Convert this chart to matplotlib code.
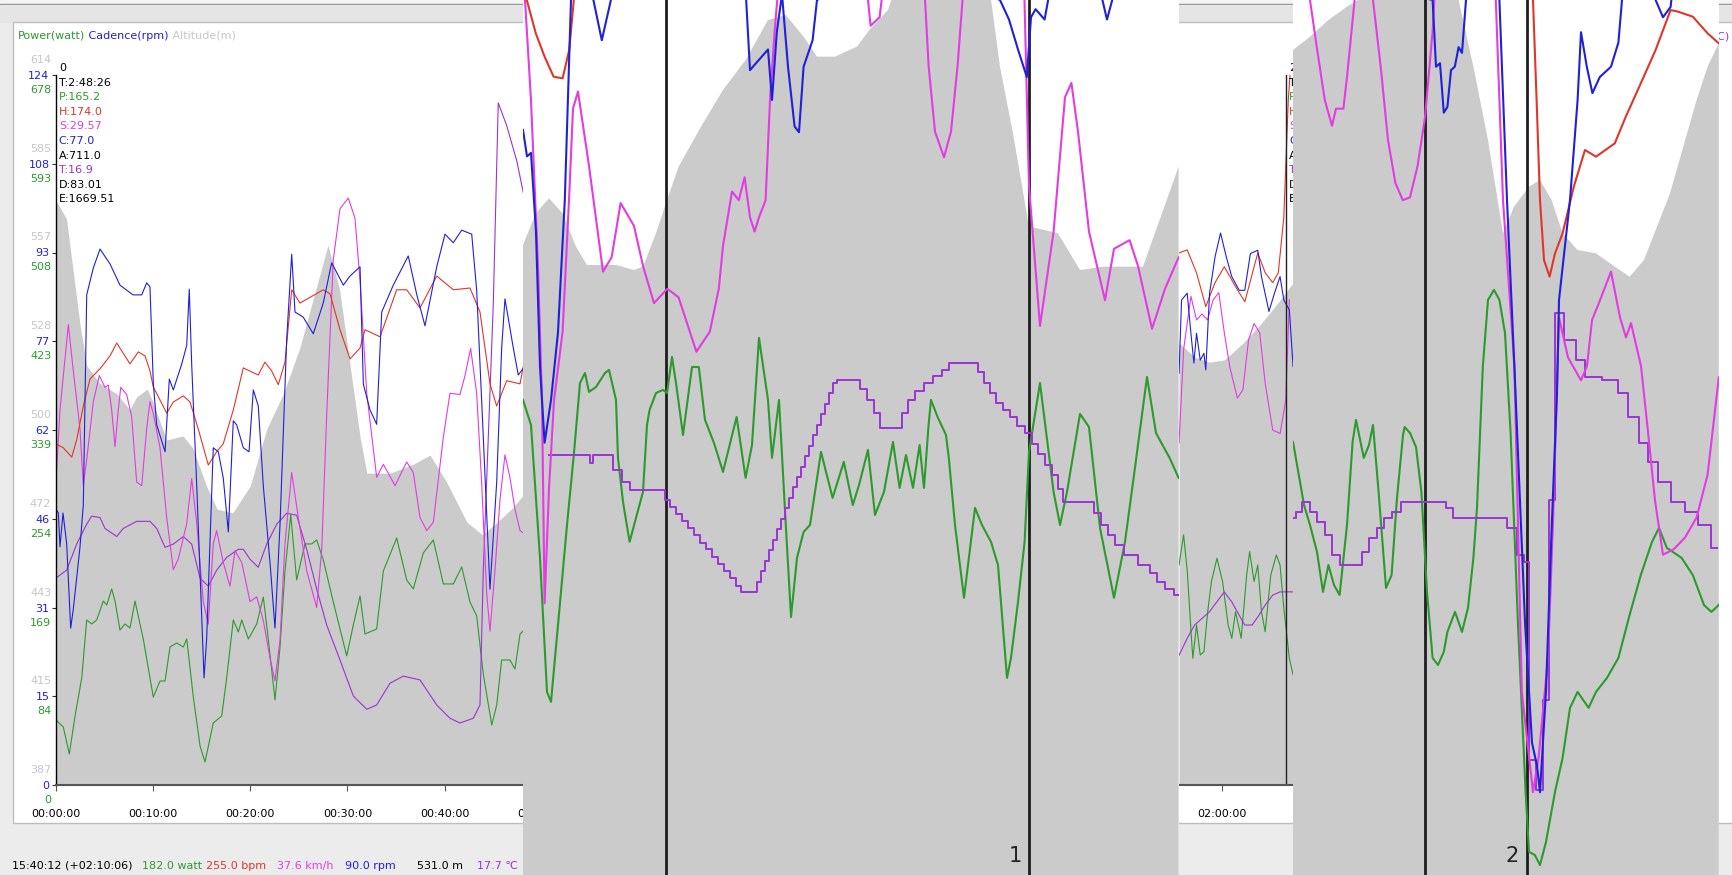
import matplotlib.pyplot as plt
import numpy as np
from matplotlib.patches import Rectangle
from matplotlib.transforms import blended_transform_factory

# ---- ride overview, first 48 minutes -------------------------------------
alt_a_min = [0.0, 1.1, 2.5, 3.2, 4.5, 6.3, 7.6, 8.3, 9.4, 10.0, 11.4, 13.1, 14.1, 15.5, 16.6, 18.2,
             20.0, 21.7, 23.4, 25.1, 28.0, 29.2, 31.3, 32.0, 34.4, 36.8, 38.5, 40.2, 42.3, 43.9,
             45.4, 47.0, 48.1]
alt_a_m = [574, 568, 534, 521, 515.5, 512, 507, 511, 513.6, 509.4, 497.3, 498.6, 494.7, 482.6,
           475.2, 474, 482.6, 500.8, 512, 526.7, 559.6, 545.3, 498.3, 486.7, 486.7, 489.6, 492.5,
           483.9, 471, 467, 471, 475.6, 479.7]

cad_a_min = [0.0, 0.26, 0.43, 0.74, 1.12, 1.53, 1.80, 2.49, 2.83, 3.18, 3.86, 4.55, 5.58, 6.60,
             7.94, 8.84, 9.35, 9.69, 10.03, 10.38, 11.24, 11.68, 12.09, 12.95, 13.47, 13.73, 13.98,
             14.50, 15.25, 15.52, 16.20, 16.72, 17.23, 17.75, 18.26, 18.61, 19.29, 19.88, 20.32,
             20.83, 21.35, 22.04, 22.55, 23.07, 23.75, 24.27, 24.61, 25.46, 26.49, 27.52, 28.38,
             29.58, 30.27, 31.30, 31.64, 32.33, 33.01, 33.53, 34.72, 36.26, 37.13, 37.98, 39.19,
             40.04, 40.89, 41.76, 42.79, 43.30, 43.98, 44.67, 45.36, 45.87, 46.21, 47.07, 47.58,
             48.10]
cad_a_rpm = [48.2, 47.5, 41.6, 47.5, 42.1, 27.4, 30.7, 41.6, 48.9, 85.6, 90.3, 93.6, 91.0, 87.3,
             85.6, 85.6, 87.7, 87.0, 70.2, 62.9, 58.2, 70.9, 69.0, 73.5, 76.8, 86.6, 73.5, 52.2,
             18.7, 25.5, 58.9, 58.2, 53.6, 44.2, 63.6, 62.9, 58.9, 58.2, 69.0, 66.2, 52.2, 38.8,
             27.4, 45.6, 77.7, 92.7, 82.6, 81.7, 78.8, 84.2, 91.2, 87.3, 88.9, 90.5, 70.0, 65.5,
             63.0, 82.6, 87.3, 92.4, 85.7, 80.2, 90.5, 96.2, 94.7, 96.9, 96.2, 86.4, 60.8, 34.2,
             52.9, 76.3, 84.9, 76.3, 71.6, 72.8]

hr_a_min = [0.0, 0.77, 1.64, 2.15, 2.83, 3.52, 4.55, 5.58, 6.27, 7.63, 8.49, 9.18, 9.69, 10.03,
            11.41, 12.09, 13.12, 13.81, 14.66, 15.69, 16.55, 17.23, 18.26, 19.29, 20.32, 20.83,
            21.52, 22.21, 22.89, 23.58, 24.27, 25.12, 27.52, 28.21, 29.24, 30.27, 31.30, 31.81,
            33.36, 35.07, 36.10, 37.47, 39.19, 40.90, 42.61, 43.64, 44.67, 45.36, 46.39, 47.76, 48.1]
hr_a_bpm = [116.9, 116.0, 113.9, 117.8, 125.4, 131.5, 133.8, 136.7, 139.6, 134.9, 137.6, 136.7,
            133.3, 129.7, 123.8, 126.3, 127.7, 126.3, 120.2, 112.1, 115.1, 116.9, 124.5, 134.0,
            132.9, 132.4, 135.3, 133.3, 130.2, 135.3, 151.6, 148.6, 151.6, 150.7, 142.6, 136.0,
            138.5, 142.6, 141.0, 151.6, 151.6, 147.5, 154.7, 151.6, 152.0, 146.6, 130.4, 125.4,
            131.1, 130.4, 134.4]

spd_a_min = [0.0, 0.43, 1.29, 1.80, 2.49, 2.83, 3.18, 3.86, 4.48, 5.06, 5.40, 5.75, 6.09, 6.43,
             6.68, 7.29, 7.81, 8.32, 8.84, 9.35, 9.69, 10.03, 10.72, 11.41, 12.09, 12.60, 13.47,
             13.98, 14.50, 15.17, 15.69, 16.20, 16.55, 17.23, 17.92, 18.44, 19.13, 19.98, 20.67,
             21.35, 22.04, 22.55, 23.07, 23.58, 24.27, 24.95, 25.81, 26.84, 27.36, 27.87, 28.55,
             29.24, 30.09, 30.78, 31.30, 31.99, 33.01, 33.70, 34.90, 36.10, 36.78, 37.47, 38.16,
             38.84, 39.87, 40.55, 41.58, 42.10, 42.68, 43.30, 43.81, 44.33, 44.67, 45.18, 45.70,
             46.21, 46.72, 47.24, 47.76, 48.10]
spd_a_kmh = [25.3, 31.7, 38.9, 35.0, 30.1, 25.3, 27.5, 32.4, 34.6, 33.6, 33.8, 31.7, 28.6, 31.7,
             33.6, 33.0, 31.1, 25.6, 25.3, 30.1, 32.4, 31.4, 28.5, 22.6, 18.2, 19.1, 22.1, 25.9,
             22.1, 15.5, 13.6, 20.4, 21.5, 18.8, 16.8, 19.8, 18.8, 15.5, 15.9, 13.9, 10.7, 8.8,
             12.3, 20.4, 26.4, 22.6, 18.1, 15.0, 19.9, 31.3, 44.4, 48.7, 49.6, 47.9, 42.6, 33.1,
             26.0, 27.1, 25.3, 27.3, 26.4, 22.6, 21.5, 22.2, 29.4, 33.1, 33.0, 34.6, 36.9, 33.1,
             25.6, 16.2, 13.0, 18.1, 24.1, 27.9, 26.0, 23.3, 21.5, 21.3]

tmp_a_min = [0.0, 1.12, 2.15, 3.18, 3.69, 4.55, 5.06, 6.27, 6.94, 8.32, 9.69, 10.38, 11.24,
             12.09, 13.12, 13.98, 14.84, 15.69, 16.55, 17.58, 18.78, 19.29, 19.98, 20.83, 21.70,
             22.73, 23.75, 24.78, 25.81, 26.84, 27.87, 29.24, 30.61, 31.99, 33.01, 34.38, 35.75,
             37.47, 39.19, 40.55, 41.58, 42.95, 43.64, 43.98, 45.01, 45.52, 46.39, 47.42, 48.10]
tmp_a_c = [14.37, 14.54, 15.09, 15.51, 15.68, 15.65, 15.42, 15.25, 15.42, 15.57, 15.57, 15.42,
           15.02, 15.09, 15.25, 15.09, 14.37, 14.20, 14.54, 14.81, 14.98, 14.98, 14.77, 14.60,
           15.09, 15.51, 15.74, 15.70, 14.98, 14.14, 13.38, 12.64, 11.88, 11.60, 11.69, 12.15,
           12.30, 12.22, 11.69, 11.41, 11.31, 11.41, 11.69, 14.52, 20.17, 24.41, 23.93, 23.19, 22.51]

pwr_a_min = [0.0, 0.77, 1.39, 1.98, 2.67, 3.18, 3.69, 4.21, 4.89, 5.24, 5.75, 6.09, 6.60, 7.12,
             7.63, 8.15, 9.00, 10.03, 10.72, 11.24, 11.75, 12.44, 13.12, 13.47, 14.15, 14.84,
             15.35, 16.20, 17.07, 17.58, 18.26, 18.78, 19.13, 19.81, 20.67, 21.35, 21.86, 22.55,
             23.07, 23.58, 24.17, 24.78, 25.64, 26.33, 26.84, 27.52, 28.55, 29.93, 30.61, 31.30,
             31.81, 33.01, 33.70, 35.07, 36.10, 36.78, 37.81, 38.84, 39.87, 40.90, 41.76, 42.61,
             43.30, 43.98, 44.85, 45.36, 45.87, 46.72, 47.24, 47.76, 48.10]
pwr_a_w = [62.1, 55.4, 29.6, 65.9, 102.2, 157.6, 153.8, 157.6, 175.7, 171.9, 187.2, 175.7, 148.0,
           153.8, 149.9, 175.7, 139.4, 84.0, 99.3, 99.3, 131.8, 135.6, 131.8, 139.4, 84.0, 37.2,
           22.0, 59.2, 65.9, 102.2, 157.6, 146.1, 157.6, 139.4, 153.8, 179.5, 139.4, 81.2, 131.8,
           204.4, 257.9, 195.8, 230.2, 230.2, 234.0, 214.9, 174.8, 123.2, 152.8, 180.5, 144.2,
           149.0, 204.4, 235.9, 195.8, 187.2, 221.6, 234.0, 192.0, 192.0, 208.2, 174.8, 161.4,
           106.0, 57.3, 76.4, 119.4, 119.4, 110.8, 144.2, 147.1]

# ---- ride overview around the two hour mark -------------------------------
alt_b_min = [115.56, 117.17, 118.70, 120.22, 122.14, 124.05, 125.95, 127.28]
alt_b_m = [528.3, 523.8, 522.2, 522.9, 528.3, 534.7, 542.0, 547.5]

cad_b_min = [115.56, 115.82, 116.40, 116.78, 117.09, 117.36, 117.74, 118.12, 118.31, 118.70,
             119.27, 119.83, 120.41, 120.98, 121.75, 122.32, 122.90, 123.66, 124.04, 124.81,
             125.38, 125.95, 126.34, 126.91, 127.29]
cad_b_rpm = [71.9, 84.7, 85.9, 78.9, 73.7, 78.9, 74.2, 75.4, 72.5, 85.9, 92.3, 96.4, 92.3, 88.8,
             86.4, 86.4, 92.8, 93.4, 88.8, 82.7, 85.9, 88.8, 84.7, 83.0, 73.1]

hr_b_min = [115.56, 116.40, 117.36, 118.31, 119.26, 120.22, 121.37, 122.33, 123.66, 124.43,
            125.20, 125.77, 126.34, 126.80, 127.30]
hr_b_bpm = [159.9, 160.6, 155.4, 147.8, 153.2, 156.8, 152.3, 148.9, 159.9, 155.4, 153.2, 155.4,
            168.0, 194.4, 210.0]

spd_b_min = [115.56, 116.03, 116.78, 117.36, 117.92, 118.49, 119.07, 119.65, 120.22, 120.79,
             121.56, 122.13, 122.71, 123.28, 123.86, 124.43, 125.20, 125.96, 126.53, 126.91]
spd_b_kmh = [28.9, 36.8, 41.3, 39.3, 39.8, 39.3, 41.0, 41.6, 38.2, 35.3, 32.7, 33.4, 37.6, 39.0,
             38.2, 33.9, 30.0, 29.7, 32.5, 41.0]

tmp_b_min = [115.56, 116.40, 117.16, 117.92, 118.69, 119.45, 120.22, 120.98, 121.74, 122.32,
             123.08, 123.66, 124.42, 125.19, 125.95, 127.29]
tmp_b_c = [12.74, 13.10, 13.38, 13.52, 13.66, 13.87, 14.08, 13.87, 13.59, 13.38, 13.38, 13.55,
           13.80, 14.01, 14.08, 14.08]

pwr_b_min = [115.56, 116.03, 116.41, 116.79, 116.98, 117.36, 117.74, 118.12, 118.51, 118.89,
             119.46, 120.04, 120.61, 120.99, 121.37, 121.95, 122.52, 122.82, 123.28, 123.66,
             124.04, 124.42, 125.00, 125.57, 125.95, 126.34, 126.91, 127.29]
pwr_b_w = [210.1, 238.8, 203.7, 146.4, 121.0, 152.8, 124.2, 127.3, 165.5, 194.2, 216.5, 194.2,
           152.8, 140.1, 165.5, 140.1, 200.6, 222.8, 194.2, 210.1, 165.5, 146.4, 200.6, 219.7,
           210.1, 168.7, 121.0, 105.1]

# ---- close-up 1 (minutes from left edge of the close-up) ------------------
z1_alt_min = [0.0, 0.64, 1.30, 1.98, 2.65, 3.20, 4.65, 5.55, 6.00, 6.65, 7.20, 7.78, 8.90, 10.0,
              11.13, 12.25, 13.14, 14.03, 14.70, 15.59, 16.70, 17.38, 18.25, 18.95, 23.18, 23.85,
              24.50, 25.30, 26.08, 26.75, 27.85, 28.99, 30.10, 31.0, 31.65, 32.78]
z1_alt_m = [515.6, 519.4, 521.2, 519.4, 515.4, 513.2, 513.2, 512.6, 513.0, 517.0, 521.0, 525.0,
            529.8, 534.2, 537.8, 542.6, 543.2, 540.6, 538.2, 538.2, 539.4, 541.6, 543.8, 549, 549,
            537.0, 529.0, 517.8, 517.4, 517.0, 512.6, 513.0, 513.0, 513.0, 517.4, 525.0]

z1_hr_min = [0.0, 0.19, 0.64, 1.08, 1.53, 1.98, 2.31, 2.54, 3.0, 32.78]
z1_hr_bpm = [186, 182.5, 180.5, 179.1, 177.9, 177.8, 179.5, 182.5, 186, 186]

z1_cad_min = [0.0, 0.2, 0.4, 0.65, 0.85, 1.08, 1.40, 1.75, 2.09, 2.40, 3.1, 3.94, 4.85, 11.13,
              11.35, 11.8, 12.25, 12.45, 12.69, 12.95, 13.25, 13.58, 13.80, 14.03, 14.48, 14.70,
              18.85, 23.85, 24.30, 24.75, 25.19, 25.40, 25.63, 26.08, 26.35, 28.85, 29.2, 29.6,
              32.78]
z1_cad_rpm = [84.8, 82.5, 82.8, 75.9, 64.2, 57.6, 61.3, 67.2, 78.7, 96.1, 99.6, 92.6, 99.6, 97,
              90.0, 90.9, 91.8, 87.4, 93.3, 96.6, 90.3, 85.1, 84.6, 90.3, 92.6, 96.1, 99.6, 96.1,
              94.4, 91.8, 89.4, 94.6, 95.3, 94.4, 97, 97, 94.4, 97, 97]

z1_spd_min = [0.0, 0.1, 0.4, 0.75, 0.95, 1.08, 1.30, 1.55, 1.98, 2.30, 2.50, 2.75, 3.30, 4.0,
              4.43, 4.88, 5.55, 6.0, 6.55, 7.22, 7.78, 8.67, 9.34, 9.79, 10.0, 10.45, 10.79,
              11.08, 11.35, 11.58, 11.8, 12.13, 12.35, 12.58, 12.8, 17.15, 17.38, 17.83, 18.05,
              20.05, 20.28, 20.6, 21.05, 21.4, 21.73, 22.05, 25.05, 25.3, 25.85, 26.53, 27.1,
              27.42, 27.75, 28.3, 29.1, 29.55, 30.33, 30.75, 31.45, 32.1, 32.78]
z1_spd_kmh = [46.3, 45.6, 42.1, 36.3, 31.6, 24.5, 28.5, 31.6, 34.0, 38.6, 41.8, 42.4, 39.8, 36.1,
              36.6, 38.5, 37.7, 36.3, 35.0, 35.5, 35.2, 33.3, 34.0, 35.5, 37.0, 38.9, 38.6, 39.4,
              38.0, 37.5, 38.0, 38.6, 42.1, 44.5, 46.3, 46.3, 44.7, 45.0, 46.3, 46.3, 43.3, 41.0,
              40.1, 41.0, 43.3, 46.3, 46.3, 39.1, 34.2, 37.5, 42.2, 42.7, 41.0, 37.5, 35.1, 36.9,
              37.2, 36.3, 34.1, 35.5, 36.6]

z1_tmp_min = [1.3, 2.42, 3.3, 3.43, 3.55, 4.3, 4.75, 5.2, 5.55, 7.0, 7.22, 7.5, 7.8, 8.1, 8.4,
              8.7, 9.0, 9.3, 9.6, 9.9, 10.2, 10.5, 10.8, 11.0, 11.58, 11.8, 12.0, 12.2, 12.4,
              12.6, 12.8, 13.0, 13.2, 13.4, 13.6, 13.8, 14.0, 14.2, 14.4, 14.6, 14.8, 15.0, 15.2,
              15.4, 15.6, 15.8, 16.7, 17.0, 17.38, 17.7, 18.05, 18.83, 19.1, 19.39, 19.8, 20.28,
              20.7, 21.17, 21.4, 22.6, 22.9, 23.18, 23.5, 23.85, 24.2, 24.5, 24.9, 25.3, 25.6,
              25.9, 26.3, 26.6, 26.9, 27.09, 28.43, 28.7, 29.1, 29.43, 29.8, 30.33, 31.2, 31.5,
              31.89, 32.3, 32.78]
z1_tmp_c = [14.41, 14.41, 14.41, 14.33, 14.41, 14.41, 14.25, 14.13, 14.04, 14.04, 13.94, 13.87,
            13.79, 13.72, 13.64, 13.57, 13.49, 13.42, 13.34, 13.27, 13.19, 13.12, 13.04, 12.97,
            12.97, 13.08, 13.19, 13.30, 13.41, 13.52, 13.63, 13.74, 13.85, 13.96, 14.07, 14.18,
            14.29, 14.40, 14.51, 14.62, 14.73, 14.84, 14.95, 15.06, 15.17, 15.20, 15.20, 15.10,
            14.99, 14.85, 14.70, 14.70, 14.85, 14.99, 15.08, 15.17, 15.24, 15.30, 15.38, 15.38,
            15.28, 15.17, 15.06, 14.96, 14.88, 14.81, 14.72, 14.64, 14.53, 14.42, 14.31, 14.20,
            14.05, 13.92, 13.92, 13.80, 13.68, 13.57, 13.47, 13.36, 13.26, 13.17, 13.08, 13.00,
            12.94]

z1_pwr_min = [0.0, 0.4, 0.85, 1.2, 1.4, 1.75, 2.2, 2.54, 2.85, 3.1, 3.3, 3.65, 4.1, 4.3, 4.65,
              4.75, 5.0, 5.33, 5.65, 6.0, 6.2, 6.33, 6.65, 7.0, 7.2, 7.45, 7.65, 8.0, 8.45, 8.79,
              9.1, 9.55, 10.0, 10.68, 11.13, 11.45, 11.8, 12.25, 12.45, 12.8, 13.14, 13.4, 13.7,
              14.03, 14.35, 14.9, 15.48, 16.04, 16.49, 16.8, 17.25, 17.6, 18.05, 18.5, 18.83,
              19.15, 19.5, 19.83, 20.05, 20.28, 20.4, 20.73, 21.15, 21.29, 21.6, 22.05, 22.6,
              22.95, 23.4, 23.75, 24.2, 24.4, 24.75, 25.08, 25.3, 25.85, 26.53, 26.85, 27.2,
              27.85, 28.3, 28.85, 29.55, 30.1, 30.55, 31.2, 31.65, 31.89, 32.33, 32.78]
z1_pwr_w = [213.8, 202.5, 142.7, 82.4, 77.9, 112.5, 157.5, 189.0, 221.4, 225.9, 217.4, 219.6,
            225.9, 227.3, 213.8, 187.7, 167.9, 149.9, 160.7, 172.4, 202.5, 209.3, 216.9, 218.3,
            216.9, 233.1, 221.4, 198.0, 228.6, 228.6, 204.8, 194.4, 181.4, 206.1, 178.7, 193.5,
            241.7, 213.8, 187.7, 213.8, 157.5, 116.1, 142.7, 154.4, 157.5, 190.4, 169.7, 185.9,
            166.5, 175.5, 191.3, 162.0, 172.4, 194.9, 174.2, 189.0, 174.2, 193.5, 174.2, 202.5,
            213.8, 206.1, 198.0, 187.7, 157.5, 124.7, 165.2, 157.5, 149.9, 139.5, 88.7, 97.7,
            122.9, 149.9, 190.4, 221.4, 172.4, 157.5, 172.4, 207.5, 201.6, 156.2, 124.7, 149.9,
            180.0, 224.1, 198.9, 194.9, 187.7, 178.7]

# ---- close-up 2 -----------------------------------------------------------
z2_alt_min = [0.0, 0.85, 1.77, 2.7, 3.25, 3.5, 8.0, 8.28, 9.02, 9.75, 10.5, 11.05, 11.8, 12.35,
              12.93, 13.48, 14.23, 15.15, 16.09, 16.83, 17.55, 18.85, 20.18, 20.73, 21.29]
z2_alt_m = [539.0, 540.6, 542.6, 544.2, 545.0, 549, 549, 545.0, 537.0, 528.2, 517.0, 520.2,
            522.6, 523.4, 521.0, 517.0, 515.0, 514.6, 513.0, 511.8, 513.8, 521.8, 533.0, 537.0,
            539.8]

z2_hr_min = [0.0, 11.85, 12.0, 12.18, 12.35, 12.55, 12.83, 13.1, 13.48, 14.04, 14.6, 15.15,
             16.09, 16.64, 17.39, 18.13, 18.88, 19.25, 19.99, 20.73, 21.29]
z2_hr_bpm = [186, 186, 182.5, 176.5, 170.5, 166.9, 165.9, 167.3, 168.5, 171.3, 173.5, 173.1,
             173.9, 175.5, 177.5, 179.5, 181.9, 181.8, 181.5, 180.5, 179.9]

z2_cad_min = [0.0, 6.98, 7.15, 7.35, 7.54, 7.72, 7.9, 8.09, 8.28, 8.45, 8.65, 8.9, 10.1, 10.32,
              10.7, 11.07, 11.6, 11.95, 12.2, 12.35, 12.65, 12.93, 13.2, 13.3, 13.85, 14.23,
              14.4, 14.69, 14.97, 15.34, 15.9, 16.27, 16.45, 16.8, 17.9, 18.13, 18.5, 18.88,
              19.1, 21.29]
z2_cad_rpm = [99, 96.1, 90.3, 90.6, 86.3, 86.8, 90.0, 90.3, 92.0, 91.5, 96.1, 99, 99, 96.1,
              78.7, 64.2, 42.0, 31.5, 29.5, 27.2, 36.0, 50.0, 62.0, 70.0, 78.7, 87.4, 93.3, 90.3,
              88.0, 89.4, 90.3, 92.4, 96.1, 99, 99, 96.1, 94.6, 95.5, 99, 99]

z2_spd_min = [0.0, 0.85, 1.2, 1.59, 1.95, 2.15, 2.52, 2.7, 3.08, 3.45, 4.0, 4.38, 4.75, 5.12,
              5.49, 5.85, 6.23, 6.6, 6.98, 7.15, 9.95, 10.14, 10.5, 11.07, 11.44, 12.0, 12.28,
              12.75, 13.0, 13.3, 13.75, 14.4, 14.7, 14.95, 15.35, 15.9, 16.35, 16.65, 16.9, 17.4,
              17.75, 18.1, 18.5, 19.05, 19.6, 20.18, 20.73, 21.29]
z2_spd_kmh = [46.7, 45.6, 43.9, 42.1, 41.2, 41.8, 41.8, 42.9, 45.6, 46.7, 45.6, 43.3, 40.7, 39.2,
              38.6, 38.7, 39.8, 41.5, 44.5, 46.7, 46.7, 45.6, 38.6, 32.8, 21.4, 17.9, 19.1, 22.6,
              27.3, 34.5, 33.1, 32.3, 32.8, 34.4, 35.1, 36.1, 34.5, 33.8, 34.3, 32.8, 30.5, 28.1,
              26.2, 26.4, 26.8, 27.5, 29.0, 32.4]

z2_tmp_min = [0.0, 0.29, 0.65, 1.03, 1.4, 1.77, 2.15, 2.52, 3.25, 3.63, 4.0, 4.38, 4.75, 5.12,
              5.68, 7.54, 7.72, 8.28, 10.4, 10.98, 11.44, 11.63, 12.0, 12.3, 12.65, 12.95, 13.2,
              13.85, 14.4, 14.78, 16.09, 16.45, 17.0, 17.55, 17.95, 18.5, 19.25, 19.99, 20.55, 21.2]
z2_tmp_c = [13.75, 13.81, 13.92, 13.81, 13.71, 13.57, 13.36, 13.26, 13.26, 13.39, 13.54, 13.64,
            13.75, 13.81, 13.92, 13.92, 13.85, 13.75, 13.75, 13.64, 13.36, 13.29, 11.21, 10.89,
            11.84, 13.94, 15.90, 15.62, 15.41, 15.23, 15.20, 15.06, 14.81, 14.54, 14.34, 14.13,
            13.92, 13.81, 13.68, 13.43]

z2_pwr_min = [0.0, 0.29, 0.55, 0.85, 1.2, 1.5, 1.77, 2.05, 2.33, 2.7, 2.98, 3.15, 3.54, 3.8, 4.0,
              4.28, 4.65, 4.93, 5.2, 5.5, 5.58, 5.85, 6.15, 6.42, 6.7, 6.98, 7.25, 7.54, 7.72, 8.1,
              8.45, 8.75, 9.02, 9.2, 9.49, 9.75, 10.05, 10.32, 10.6, 10.88, 11.25, 11.63, 11.8,
              12.09, 12.35, 12.65, 13.1, 13.48, 13.85, 14.23, 14.78, 15.15, 15.7, 16.27, 16.83,
              17.39, 17.95, 18.3, 18.69, 19.43, 19.99, 20.55, 20.92, 21.29]
z2_pwr_w = [194.9, 180.0, 166.5, 157.5, 145.4, 127.4, 139.5, 130.5, 126.0, 157.5, 194.9, 204.8,
            187.7, 193.5, 202.5, 172.4, 129.2, 135.0, 169.7, 198.0, 201.6, 198.9, 192.6, 172.4,
            127.4, 97.7, 94.5, 100.4, 109.4, 118.4, 109.4, 120.2, 142.7, 165.2, 228.6, 258.8,
            263.3, 258.8, 243.9, 198.9, 112.5, 37.4, 10.4, 9.0, 4.5, 14.9, 37.4, 52.7, 75.2,
            82.4, 75.2, 82.4, 88.7, 97.7, 117.0, 135.0, 149.9, 156.2, 147.2, 142.7, 135.0, 121.5,
            118.4, 121.5]

# axis labels of the overview
cad_labels = ['0', '15', '31', '46', '62', '77', '93', '108', '124']
alt_labels = ['387', '415', '443', '472', '500', '528', '557', '585', '614']
pwr_labels = ['0', '84', '169', '254', '339', '423', '508', '593', '678']

info_0 = ['0', 'T:2:48:26', 'P:165.2', 'H:174.0', 'S:29.57', 'C:77.0', 'A:711.0', 'T:16.9',
          'D:83.01', 'E:1669.51']
info_2 = ['2', 'T:2:06:36', 'P:182.0', 'H:158.0', 'S:31.20', 'C:84.0', 'A:542.0', 'T:14.1',
          'D:63.20', 'E:1290.44']
status = ['15:40:12 (+02:10:06)', '182.0 watt', '255.0 bpm', '37.6 km/h', '90.0 rpm',
          '531.0 m', '17.7 \u2103']

GREEN, BLUE, RED = '#2c9a2c', '#2020d8', '#e0362a'
MAGENTA, PURPLE = '#e23ce2', '#9a34d4'
GREY_FILL, GREY_TEXT = '#cbcbcb', '#c6c6c6'

W, H = 1733, 875
fig = plt.figure(figsize=(W / 100, H / 100), dpi=100, facecolor='#ececec')
plt.rcParams['font.family'] = ['DejaVu Sans']


def rect(x0, y0, x1, y1):
    return [x0 / W, 1 - y1 / H, (x1 - x0) / W, (y1 - y0) / H]


def layer(box, xlim, ylim, z, face='none'):
    a = fig.add_axes(box, zorder=z)
    a.set_xlim(*xlim)
    a.set_ylim(*ylim)
    a.set_xticks([])
    a.set_yticks([])
    for s in a.spines.values():
        s.set_visible(False)
    a.patch.set_facecolor(face)
    return a


# window chrome
fig.patches.append(Rectangle((0, 1 - 4 / H), 1, 4 / H, transform=fig.transFigure,
                             color='#f4f4f4', zorder=0))
fig.patches.append(Rectangle((0, 1 - 5.5 / H), 1, 1.5 / H, transform=fig.transFigure,
                             color='#8a8a8a', zorder=0))
fig.patches.append(Rectangle((0, 1 - 22 / H), 1, 16.5 / H, transform=fig.transFigure,
                             color='#e5e5e5', zorder=0))
fig.patches.append(Rectangle((13 / W, 1 - 823 / H), (W - 13) / W, 801 / H,
                             transform=fig.transFigure, facecolor='white',
                             edgecolor='#bdbdbd', lw=1, zorder=0))

# ---- overview chart -------------------------------------------------------
main_box = rect(55.8, 75, 1700, 785)
main_x = (0, (1700 - 55.8) / 9.72)

ax_alt = layer(main_box, main_x, (387, 614), 1)
ax_alt.fill_between(alt_a_min, alt_a_m, 387, color=GREY_FILL, lw=0)
ax_alt.fill_between(alt_b_min, alt_b_m, 387, color=GREY_FILL, lw=0)

ax_pwr = layer(main_box, main_x, (0, 678), 1.1)
ax_pwr.plot(pwr_a_min, pwr_a_w, color=GREEN, lw=0.8)
ax_pwr.plot(pwr_b_min, pwr_b_w, color=GREEN, lw=0.8)

ax_tmp = layer(main_box, main_x, (10, 25), 1.2)
ax_tmp.plot(tmp_a_min, tmp_a_c, color=PURPLE, lw=0.8)
ax_tmp.plot(tmp_b_min, tmp_b_c, color=PURPLE, lw=0.8)

ax_spd = layer(main_box, main_x, (0, 60), 1.3)
ax_spd.plot(spd_a_min, spd_a_kmh, color=MAGENTA, lw=0.8)
ax_spd.plot(spd_b_min, spd_b_kmh, color=MAGENTA, lw=0.8)

ax_hr = layer(main_box, main_x, (40, 200), 1.4)
ax_hr.plot(hr_a_min, hr_a_bpm, color=RED, lw=0.8)
ax_hr.plot(hr_b_min, hr_b_bpm, color=RED, lw=0.8)

ax = fig.add_axes(main_box, zorder=1.5)
ax.patch.set_facecolor('none')
ax.set_xlim(*main_x)
ax.set_ylim(0, 124)
ax.plot(cad_a_min, cad_a_rpm, color=BLUE, lw=0.8)
ax.plot(cad_b_min, cad_b_rpm, color=BLUE, lw=0.8)
for side in ('top', 'right'):
    ax.spines[side].set_visible(False)
ax.spines['left'].set_color('black')
ax.spines['left'].set_linewidth(1)
ax.spines['bottom'].set_color('#555555')
ax.spines['bottom'].set_linewidth(1.5)

ticks_y = np.linspace(0, 124, 9)
ax.set_yticks(ticks_y)
ax.set_yticklabels(cad_labels, color=BLUE, fontsize=8)
ax.tick_params(axis='y', length=3, pad=1.5, color='#333333')
trans_y = blended_transform_factory(ax.transAxes, ax.transData)
for yv, a_lab, p_lab in zip(ticks_y, alt_labels, pwr_labels):
    ax.annotate(a_lab, (0, yv), xycoords=trans_y, xytext=(-4.5, 15),
                textcoords='offset pixels', ha='right', va='center', color=GREY_TEXT, fontsize=8)
    ax.annotate(p_lab, (0, yv), xycoords=trans_y, xytext=(-4.5, -15),
                textcoords='offset pixels', ha='right', va='center', color=GREEN, fontsize=8)

ticks_x = np.arange(0, 170, 10)
ax.set_xticks(ticks_x)
ax.set_xticklabels([f'{int(m) // 60:02d}:{int(m) % 60:02d}:00' for m in ticks_x], fontsize=8)
ax.tick_params(axis='x', direction='out', length=4, pad=13, color='#555555')

# cursor read-outs
info_colors = ['black', 'black', GREEN, RED, MAGENTA, BLUE, 'black', PURPLE, 'black', 'black']
trans_x = blended_transform_factory(ax.transData, ax.transAxes)
ax.axvline(126.6, color='#222222', lw=1)
for cursor_min, lines in ((0.0, info_0), (126.6, info_2)):
    for i, (txt, col) in enumerate(zip(lines, info_colors)):
        y_px = 68 + 14.6 * i
        ax.annotate(txt, (cursor_min, (785 - y_px) / 710), xycoords=trans_x, xytext=(3, 0),
                    textcoords='offset pixels', va='center', color=col, fontsize=8)

# legend line above the chart
leg = ax.annotate('Power(watt)', (18 / W, 1 - 36 / H), xycoords='figure fraction',
                  va='center', color=GREEN, fontsize=8)
leg = ax.annotate(' Cadence(rpm)', (1, 0.5), xycoords=leg, va='center', color=BLUE, fontsize=8)
ax.annotate(' Altitude(m)', (1, 0.5), xycoords=leg, va='center', color=GREY_TEXT, fontsize=8)
fig.text(1729 / W, 1 - 37 / H, 'Speed(km/h) Temperature(°C)', ha='right', va='center',
         color=PURPLE, fontsize=8)

# status bar
status_x = [12, 142, 206, 277, 345, 417, 477]
status_c = ['black', GREEN, RED, MAGENTA, BLUE, 'black', PURPLE]
for x_px, txt, col in zip(status_x, status, status_c):
    fig.text(x_px / W, 1 - 866 / H, txt, va='center', color=col, fontsize=8)


# ---- close-up panels ------------------------------------------------------
def close_up(x0, x1, z, alt, pwr, tmp, spd, hr, cad, marks, tag):
    box = rect(x0, 0, x1, 875)
    xl = (0, (x1 - x0) / 20)
    a = layer(box, xl, (440, 545), z, face='white')
    a.fill_between(alt[0], alt[1], 440, color=GREY_FILL, lw=0)
    for m in marks:
        a.axvline(m, color='#1e1e1e', lw=2)
    a.text(tag[0], 0.022, tag[1], transform=blended_transform_factory(a.transData, a.transAxes),
           ha='center', va='center', fontsize=15, color='#222222')
    layer(box, xl, (0, 393.75), z + 0.1).plot(*pwr, color=GREEN, lw=1.5)
    layer(box, xl, (10, 19.19), z + 0.2).plot(*tmp, color=PURPLE, lw=1.4, drawstyle='steps-mid')
    layer(box, xl, (15, 45.6), z + 0.3).plot(*spd, color=MAGENTA, lw=1.5)
    layer(box, xl, (130, 182.5), z + 0.4).plot(*hr, color=RED, lw=1.5)
    layer(box, xl, (20, 96.1), z + 0.5).plot(*cad, color=BLUE, lw=1.5)


close_up(523, 1178.6, 10, (z1_alt_min, z1_alt_m), (z1_pwr_min, z1_pwr_w), (z1_tmp_min, z1_tmp_c),
         (z1_spd_min, z1_spd_kmh), (z1_hr_min, z1_hr_bpm), (z1_cad_min, z1_cad_rpm),
         [7.15, 25.3], (24.6, '1'))
close_up(1293, 1718.8, 20, (z2_alt_min, z2_alt_m), (z2_pwr_min, z2_pwr_w), (z2_tmp_min, z2_tmp_c),
         (z2_spd_min, z2_spd_kmh), (z2_hr_min, z2_hr_bpm), (z2_cad_min, z2_cad_rpm),
         [6.6, 11.7], (10.95, '2'))

fig.savefig('out.png', dpi=100, facecolor=fig.get_facecolor())
